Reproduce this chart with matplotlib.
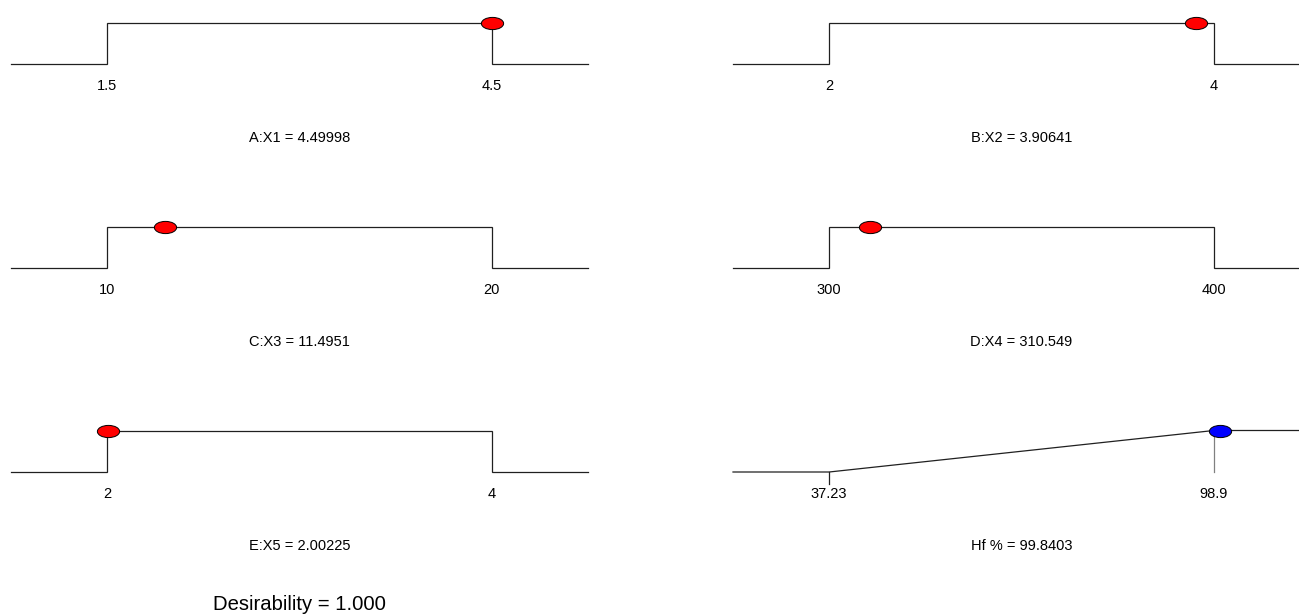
import matplotlib.pyplot as plt
import numpy as np
from matplotlib.path import Path

plt.rcParams['font.family'] = ['Liberation Sans', 'DejaVu Sans']

# factor settings at the optimum
factor_names = ["A:X1", "B:X2", "C:X3", "D:X4", "E:X5"]
factor_low = [1.5, 2, 10, 300, 2]
factor_high = [4.5, 4, 20, 400, 4]
factor_value = [4.49998, 3.90641, 11.4951, 310.549, 2.00225]

# response (maximize)
resp_name = "Hf %"
resp_low = 37.23
resp_high = 98.9
resp_value = 99.8403

desirability = 1.000

W, H = 1299, 615
fig = plt.figure(figsize=(W / 100, H / 100), dpi=100)

# ellipse-shaped marker
circ = Path.unit_circle()
dot = Path(circ.vertices * np.array([1.0, 0.55]), circ.codes)

panel_w = 577
col_x = [11, 733]
row_base = [64, 268, 472]
ramp_h = 41.5
fs = 10.5


def make_ax(col, row):
    x0 = col_x[col]
    y0 = H - row_base[row]
    ax = fig.add_axes([x0 / W, y0 / H, panel_w / W, ramp_h / H])
    ax.set_ylim(0, 1)
    ax.axis('off')
    return ax


def labels(ax, lo, hi, title):
    for v in (lo, hi):
        ax.annotate('{:g}'.format(v), (v, 0), xytext=(0, -22), textcoords='offset pixels',
                    ha='center', va='center', fontsize=fs, annotation_clip=False)
    ax.annotate(title, ((lo + hi) / 2, 0), xytext=(0, -74), textcoords='offset pixels',
                ha='center', va='center', fontsize=fs, annotation_clip=False)


panels = [(0, 0), (1, 0), (0, 1), (1, 1), (0, 2)]
for i, (col, row) in enumerate(panels):
    lo, hi, val = factor_low[i], factor_high[i], factor_value[i]
    span = hi - lo
    xmin, xmax = lo - 0.25 * span, hi + 0.25 * span
    ax = make_ax(col, row)
    ax.set_xlim(xmin, xmax)
    ax.plot([xmin, lo, lo, hi, hi, xmax], [0, 0, 1, 1, 0, 0], color='#202020', lw=0.9,
            clip_on=False, solid_joinstyle='miter')
    ax.plot([val], [1], marker=dot, markersize=16, markerfacecolor='red',
            markeredgecolor='black', markeredgewidth=0.7, clip_on=False)
    labels(ax, lo, hi, '{} = {}'.format(factor_names[i], val))

# response ramp
span = resp_high - resp_low
xmin, xmax = resp_low - 0.25 * span, resp_high + 0.25 * span
ax = make_ax(1, 2)
ax.set_xlim(xmin, xmax)
ax.plot([xmin, resp_low, resp_high, xmax], [0, 0, 1, 1], color='#202020', lw=0.9, clip_on=False)
ax.plot([resp_low, resp_low], [0, -0.3], color='#202020', lw=0.9, clip_on=False)
ax.plot([resp_high, resp_high], [1, 0], color='#808080', lw=0.9, clip_on=False)
ax.plot([resp_value], [1], marker=dot, markersize=16, markerfacecolor='blue',
        markeredgecolor='black', markeredgewidth=0.7, clip_on=False)
labels(ax, resp_low, resp_high, '{} = {}'.format(resp_name, resp_value))

fig.text(299 / W, 1 - 605 / H, 'Desirability = {:.3f}'.format(desirability),
         ha='center', va='center', fontsize=14.6)

fig.savefig('out.png', dpi=100)
